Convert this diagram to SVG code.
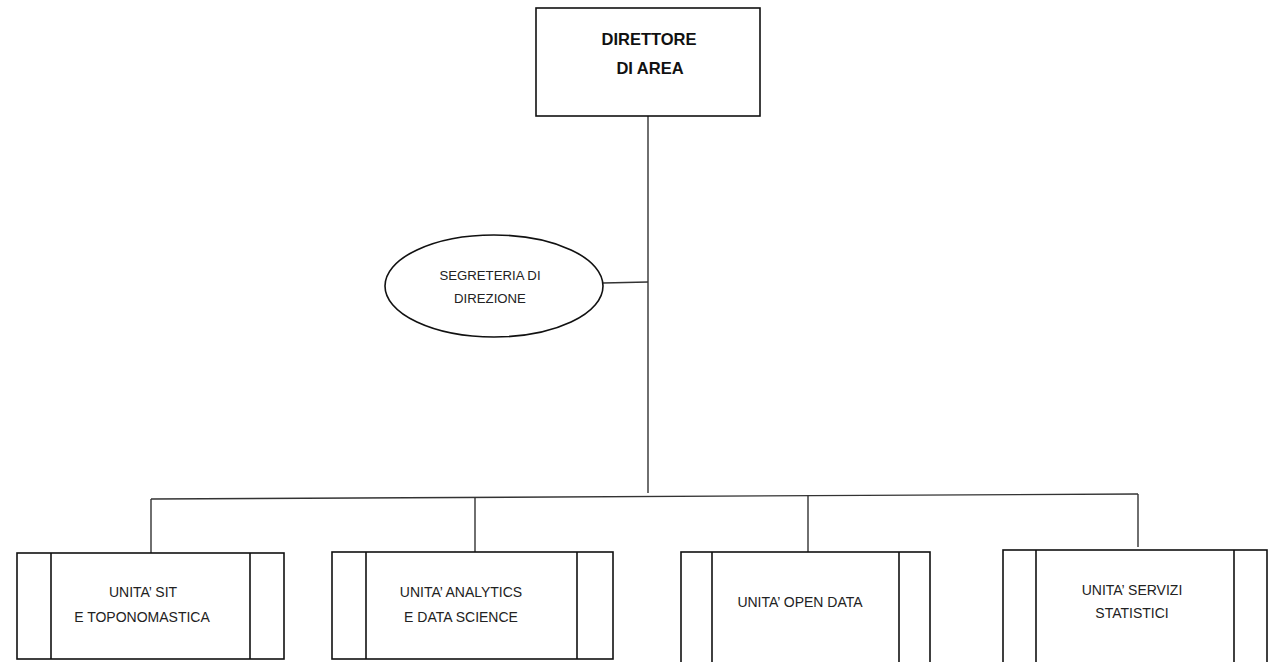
<svg xmlns="http://www.w3.org/2000/svg" width="1273" height="662" viewBox="0 0 1273 662">
<style>
.box{fill:#fff;stroke:#111;stroke-width:1.6}
.inner{stroke:#111;stroke-width:1.6}
.conn{stroke:#333;stroke-width:1.4;fill:none}
.t{font-family:"Liberation Sans",Arial,sans-serif;font-size:14px;fill:#222;text-anchor:middle}
.tb{font-family:"Liberation Sans",Arial,sans-serif;font-size:16.5px;font-weight:bold;fill:#111;text-anchor:middle}
.te{font-family:"Liberation Sans",Arial,sans-serif;font-size:13.2px;fill:#222;text-anchor:middle}
</style>
<rect width="1273" height="662" fill="#fff"/>
<g id="connectors">
<line class="conn" x1="648" y1="116" x2="648" y2="493"/>
<line class="conn" x1="603" y1="283" x2="648" y2="282"/>
<line class="conn" x1="151" y1="499" x2="1138" y2="494"/>
<line class="conn" x1="151" y1="499" x2="151" y2="553"/>
<line class="conn" x1="475" y1="497" x2="475" y2="552"/>
<line class="conn" x1="808" y1="496" x2="808" y2="552"/>
<line class="conn" x1="1138" y1="494" x2="1138" y2="547"/>
</g>
<g id="direttore">
<rect class="box" x="536" y="8" width="224" height="108"/>
<text class="tb" x="649" y="45">DIRETTORE</text>
<text class="tb" x="650" y="74">DI AREA</text>
</g>
<g id="segreteria">
<ellipse class="box" cx="494" cy="286" rx="109" ry="51"/>
<text class="te" x="490" y="280">SEGRETERIA DI</text>
<text class="te" x="490" y="303">DIREZIONE</text>
</g>
<g id="unita-sit">
<rect class="box" x="17" y="553" width="267" height="106"/>
<line class="inner" x1="51" y1="553" x2="51" y2="659"/>
<line class="inner" x1="250" y1="553" x2="250" y2="659"/>
<text class="t" x="143" y="597">UNITA’ SIT</text>
<text class="t" x="142" y="622">E TOPONOMASTICA</text>
</g>
<g id="unita-analytics">
<rect class="box" x="332" y="552" width="281" height="107"/>
<line class="inner" x1="366" y1="552" x2="366" y2="659"/>
<line class="inner" x1="577" y1="552" x2="577" y2="659"/>
<text class="t" x="461" y="597">UNITA’ ANALYTICS</text>
<text class="t" x="461" y="622">E DATA SCIENCE</text>
</g>
<g id="unita-open-data">
<rect class="box" x="681" y="552" width="249" height="120"/>
<line class="inner" x1="712" y1="552" x2="712" y2="672"/>
<line class="inner" x1="899" y1="552" x2="899" y2="672"/>
<text class="t" x="800" y="607">UNITA’ OPEN DATA</text>
</g>
<g id="unita-servizi-statistici">
<rect class="box" x="1003" y="550" width="264" height="122"/>
<line class="inner" x1="1036" y1="550" x2="1036" y2="672"/>
<line class="inner" x1="1234" y1="550" x2="1234" y2="672"/>
<text class="t" x="1132" y="595">UNITA’ SERVIZI</text>
<text class="t" x="1132" y="618">STATISTICI</text>
</g>
</svg>
